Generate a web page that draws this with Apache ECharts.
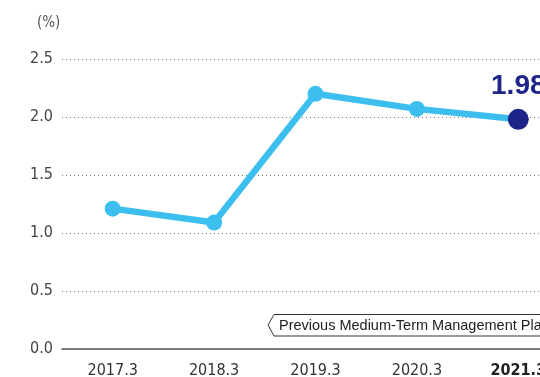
<!DOCTYPE html>
<html>
<head>
<meta charset="utf-8">
<script src="https://cdn.jsdelivr.net/npm/echarts@6/dist/echarts.min.js"></script>
<style>
  html, body { margin: 0; padding: 0; background: #fff; }
  #chart { width: 540px; height: 377px; }
</style>
</head>
<body>
<div id="chart"></div>
<script>
// Fiscal years (March year-end) and ratio values in percent
const categories = ['2017.3', '2018.3', '2019.3', '2020.3', '2021.3'];
const ratioValues = [1.21, 1.09, 2.2, 2.07, 1.98];
const yTicks = [0, 0.5, 1.0, 1.5, 2.0, 2.5];

const narrowFont = '"Liberation Sans Narrow", "Arial Narrow", "DejaVu Sans Condensed", sans-serif';
const lineBlue = '#3cbfee';
const navy = '#1e2488';

const chart = echarts.init(document.getElementById('chart'), null, { renderer: 'canvas' });

const seriesData = ratioValues.map((v, i) => {
  if (i === ratioValues.length - 1) {
    return {
      value: v,
      symbolSize: 21,
      itemStyle: { color: navy },
      label: {
        show: true,
        position: 'top',
        distance: 9,
        formatter: (p) => p.value.toFixed(2),
        color: navy,
        fontSize: 28,
        fontWeight: 'bold',
        fontFamily: 'Liberation Sans, Arial, sans-serif'
      }
    };
  }
  return v;
});

chart.setOption({
  animation: false,
  // the plot runs past the right edge of the canvas, so the last column is cut off
  grid: { left: 62, width: 507, top: 59, bottom: 28, containLabel: false, outerBoundsMode: 'none' },
  xAxis: {
    type: 'category',
    data: categories,
    boundaryGap: true,
    axisLine: { show: true, lineStyle: { color: '#555', width: 1.5 } },
    axisTick: { show: false },
    axisLabel: {
      interval: 0,
      margin: 14,
      color: '#333',
      fontSize: 16,
      fontFamily: narrowFont,
      formatter: (v) => v === categories[categories.length - 1] ? '{b|' + v + '}' : v,
      rich: { b: { fontWeight: 'bold', fontSize: 16, color: '#222', fontFamily: narrowFont } }
    },
    splitLine: { show: false }
  },
  yAxis: {
    type: 'value',
    min: yTicks[0],
    max: yTicks[yTicks.length - 1],
    interval: 0.5,
    axisLine: { show: false },
    axisTick: { show: false },
    axisLabel: {
      margin: 9,
      color: '#444',
      fontSize: 16,
      fontFamily: narrowFont,
      formatter: (v) => v.toFixed(1)
    },
    splitLine: {
      show: true,
      lineStyle: { color: '#777', type: [1, 3], width: 1 }
    }
  },
  series: [{
    type: 'line',
    data: seriesData,
    symbol: 'circle',
    symbolSize: 16,
    lineStyle: { color: lineBlue, width: 6.5 },
    itemStyle: { color: lineBlue },
    z: 3
  }],
  graphic: [
    {
      type: 'text',
      left: 37,
      top: 16,
      style: { text: '(%)', fill: '#555', fontSize: 15, fontFamily: narrowFont }
    },
    {
      type: 'polygon',
      shape: { points: [[268, 325], [274, 314.5], [545, 314.5], [545, 336], [274, 336]] },
      style: { fill: '#fff', stroke: '#333', lineWidth: 1 },
      z: 10
    },
    {
      type: 'text',
      x: 279,
      y: 325.5,
      style: {
        text: 'Previous Medium-Term Management Plan',
        fill: '#222',
        fontSize: 14.5,
        fontFamily: 'Liberation Sans, Arial, sans-serif',
        verticalAlign: 'middle'
      },
      z: 11
    }
  ]
});
</script>
</body>
</html>
